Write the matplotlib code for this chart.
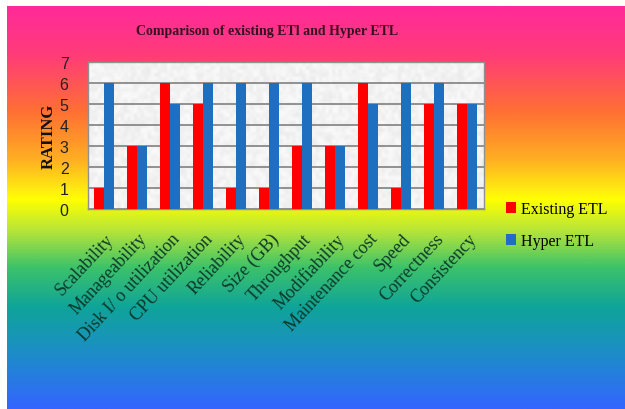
#!/usr/bin/env python3
"""Bar chart: rating of existing ETL vs Hyper ETL across quality attributes."""
import matplotlib
matplotlib.use('Agg')
import matplotlib.pyplot as plt
from matplotlib.colors import LinearSegmentedColormap
import numpy as np

categories = ['Scalability', 'Manageability', 'Disk I/ o utilization', 'CPU utilization',
              'Reliability', 'Size (GB)', 'Throughput', 'Modifiability',
              'Maintenance cost', 'Speed', 'Correctness', 'Consistency']
existing_etl = [1, 3, 6, 5, 1, 1, 3, 3, 6, 1, 5, 5]
hyper_etl = [6, 3, 5, 6, 6, 6, 6, 3, 5, 6, 6, 5]
yticks = [0, 1, 2, 3, 4, 5, 6, 7]

W, H = 625, 410
fig = plt.figure(figsize=(W / 100, H / 100), dpi=100)
fig.patch.set_facecolor('white')

# vertical rainbow background (pink -> orange -> yellow -> green -> blue)
bg = fig.add_axes([7 / W, 0, 1 - 7 / W, 1 - 7 / H], zorder=0)
stops = [(0.00, '#ff2a9a'), (0.12, '#ff3c78'), (0.26, '#ff7034'),
         (0.38, '#ffae22'), (0.46, '#ffef10'), (0.48, '#ffff00'),
         (0.56, '#b4e43a'), (0.65, '#3cc26a'), (0.75, '#0fa49a'),
         (0.86, '#1c8ec6'), (1.00, '#3366ff')]
cmap = LinearSegmentedColormap.from_list('bgrad', stops)
grad = np.linspace(0, 1, 400).reshape(-1, 1)
bg.imshow(grad, aspect='auto', cmap=cmap, extent=[0, 1, 1, 0])
bg.set_xlim(0, 1)
bg.set_ylim(1, 0)
bg.axis('off')

serif = ['Liberation Serif', 'DejaVu Serif']
sans = ['Liberation Sans', 'DejaVu Sans']

# plot area
left, right, top, bottom = 88, 484, 63, 210
ax = fig.add_axes([left / W, 1 - bottom / H, (right - left) / W, (bottom - top) / H], zorder=2)

# speckled light-gray fill for the plotting area
rng = np.random.default_rng(3)
tex = 0.92 + 0.06 * rng.random((40, 120))
ax.imshow(tex, cmap='gray', vmin=0, vmax=1, aspect='auto',
          extent=[-0.5, len(categories) - 0.5, 0, 7], zorder=0, interpolation='bilinear')

x = np.arange(len(categories))
w = 0.3
ax.bar(x - w / 2 - 0.02, existing_etl, w, color='#ff0000', zorder=3, label='Existing ETL')
ax.bar(x + w / 2 - 0.02, hyper_etl, w, color='#1f6fc0', zorder=3, label='Hyper ETL')

ax.set_xlim(-0.5, len(categories) - 0.5)
ax.set_ylim(0, 7)
ax.set_yticks(yticks)
ax.set_yticklabels([str(t) for t in yticks], family=sans, fontsize=11.5, color='#222222')
ax.yaxis.grid(True, color='#808080', linewidth=1.2, zorder=1)
ax.set_axisbelow(True)
ax.tick_params(axis='y', length=0, pad=14)
ax.tick_params(axis='x', length=0, pad=15)
for s in ax.spines.values():
    s.set_color('#909090')
    s.set_linewidth(1)

ax.set_xticks(x)
ax.set_xticklabels(categories, rotation=47, ha='right', va='top', rotation_mode='anchor',
                   family=serif, fontsize=13, color='#0d3a2a')

ax.set_ylabel('RATING', family=serif, fontweight='bold', fontsize=12, color='#111111', labelpad=2)

fig.text(267 / W, 1 - 32 / H, 'Comparison of existing ETl and Hyper ETL', ha='center', va='center',
         family=serif, fontweight='bold', fontsize=10, color='#3a1020')

ax.legend(loc='upper left', bbox_to_anchor=(506 / W, 1 - 202 / H), bbox_transform=fig.transFigure,
          frameon=False, prop={'family': serif, 'size': 11.5}, handlelength=0.65, handleheight=0.65,
          handletextpad=0.3, labelspacing=1.0, borderpad=0, borderaxespad=0)

fig.savefig('out.png', dpi=100)
